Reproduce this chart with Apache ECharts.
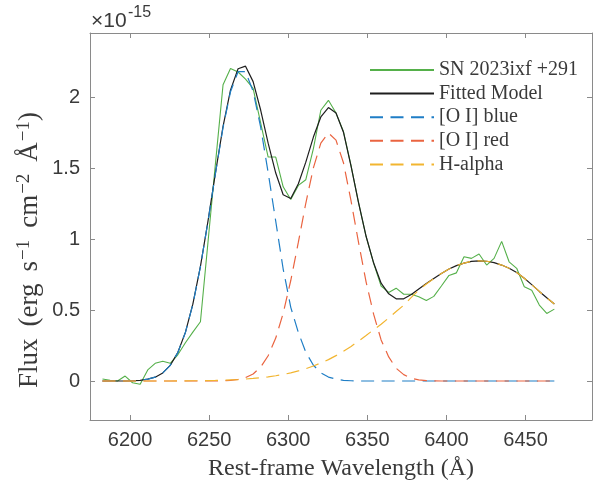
<!DOCTYPE html>
<html><head><meta charset="utf-8">
<script src="https://cdn.jsdelivr.net/npm/echarts@6/dist/echarts.min.js"></script>
<style>html,body{margin:0;padding:0;background:#fff}#c{width:603px;height:488px}</style>
</head><body><div id="c"></div>
<script>
// Rest-frame wavelength grid (Angstrom)
const wavelength = [6182.6, 6187.4, 6192.1, 6196.9, 6201.6, 6206.4, 6211.2, 6215.9, 6220.7, 6225.4,
  6230.2, 6235.0, 6239.7, 6244.5, 6249.2, 6254.0, 6258.8, 6263.5, 6268.3, 6273.0,
  6277.8, 6282.6, 6287.3, 6292.1, 6296.8, 6301.6, 6306.4, 6311.1, 6315.9, 6320.6,
  6325.4, 6330.2, 6334.9, 6339.7, 6344.4, 6349.2, 6354.0, 6358.7, 6363.5, 6368.2,
  6373.0, 6377.8, 6382.5, 6387.3, 6392.0, 6396.8, 6401.6, 6406.3, 6411.1, 6415.8,
  6420.6, 6425.4, 6430.1, 6434.9, 6439.6, 6444.4, 6449.2, 6453.9, 6458.7, 6463.4, 6468.2];
// Flux in units of 1e-15 erg s^-1 cm^-2 A^-1
const observed = [0.014, 0.005, 0.000, 0.035, -0.012, -0.023, 0.078, 0.125, 0.139, 0.125,
  0.185, 0.270, 0.345, 0.418, 0.970, 1.535, 2.090, 2.205, 2.180, 2.130,
  2.064, 1.820, 1.580, 1.580, 1.370, 1.280, 1.380, 1.420, 1.640, 1.910,
  1.980, 1.890, 1.760, 1.520, 1.260, 1.020, 0.830, 0.670, 0.625, 0.655,
  0.612, 0.612, 0.595, 0.568, 0.597, 0.670, 0.745, 0.763, 0.877, 0.865,
  0.896, 0.818, 0.865, 0.985, 0.841, 0.795, 0.665, 0.640, 0.536, 0.477, 0.507];
const model = [0, 0, 0, 0, 0.002, 0.005, 0.013, 0.027, 0.057, 0.110,
  0.201, 0.343, 0.542, 0.809, 1.123, 1.468, 1.797, 2.052, 2.203, 2.221,
  2.112, 1.910, 1.678, 1.467, 1.314, 1.287, 1.392, 1.544, 1.721, 1.863,
  1.929, 1.891, 1.755, 1.516, 1.261, 1.021, 0.832, 0.690, 0.615, 0.580,
  0.580, 0.610, 0.649, 0.688, 0.724, 0.759, 0.790, 0.814, 0.832, 0.844,
  0.848, 0.845, 0.835, 0.818, 0.795, 0.765, 0.725, 0.680, 0.632, 0.587, 0.543];
const oiBlue = [0, 0, 0, 0, 0.002, 0.005, 0.013, 0.027, 0.057, 0.110,
  0.200, 0.342, 0.540, 0.807, 1.120, 1.464, 1.789, 2.040, 2.182, 2.183,
  2.044, 1.789, 1.471, 1.127, 0.790, 0.520, 0.342, 0.203, 0.111, 0.058,
  0.028, 0.013, 0.005, 0.002, 0, 0, 0, 0, 0, 0,
  0, 0, 0, 0, 0, 0, 0, 0, 0, 0,
  0, 0, 0, 0, 0, 0, 0, 0, 0, 0, 0];
const oiRed = [0, 0, 0, 0, 0, 0, 0, 0, 0, 0,
  0, 0, 0, 0, 0, 0, 0.002, 0.004, 0.011, 0.024,
  0.050, 0.098, 0.178, 0.303, 0.478, 0.709, 0.979, 1.254, 1.504, 1.678,
  1.750, 1.699, 1.540, 1.270, 0.980, 0.700, 0.470, 0.290, 0.170, 0.090,
  0.045, 0.020, 0.008, 0.003, 0.001, 0, 0, 0, 0, 0,
  0, 0, 0, 0, 0, 0, 0, 0, 0, 0, 0];
const hAlpha = [0, 0, 0, 0, 0, 0, 0, 0, 0, 0,
  0.001, 0.001, 0.002, 0.002, 0.003, 0.004, 0.006, 0.008, 0.010, 0.014,
  0.018, 0.023, 0.029, 0.037, 0.046, 0.058, 0.071, 0.087, 0.106, 0.127,
  0.151, 0.179, 0.210, 0.244, 0.281, 0.321, 0.362, 0.400, 0.445, 0.490,
  0.535, 0.590, 0.641, 0.685, 0.723, 0.759, 0.790, 0.814, 0.832, 0.844,
  0.848, 0.845, 0.835, 0.818, 0.795, 0.765, 0.725, 0.680, 0.632, 0.587, 0.543];
const xTicks = [6200, 6250, 6300, 6350, 6400, 6450];
const yTicks = [0, 0.5, 1, 1.5, 2];
const seriesNames = ['SN 2023ixf +291', 'Fitted Model', '[O I] blue', '[O I] red', 'H-alpha'];

const chart = echarts.init(document.getElementById('c'), null, {renderer: 'canvas'});
const pair = arr => wavelength.map((x, i) => [x, arr[i]]);
const axisColor = '#8a8a8a';
const textColor = '#3a3a3a';
const tickLabel = {fontFamily: 'Liberation Sans', fontSize: 20, color: textColor, formatter: v => String(v)};
const dash = [13, 7.5];

function xAx(pos, labels) {
  return {
    type: 'value', position: pos, min: 6174.7, max: 6492.0,
    axisLine: {show: true, onZero: false, lineStyle: {color: axisColor, width: 1}},
    axisTick: {show: true, inside: true, length: 5, customValues: xTicks, lineStyle: {color: axisColor}},
    axisLabel: Object.assign({show: labels, margin: 10, customValues: xTicks}, tickLabel),
    splitLine: {show: false}
  };
}
function yAx(pos, labels) {
  return {
    type: 'value', position: pos, min: -0.275, max: 2.455,
    axisLine: {show: true, onZero: false, lineStyle: {color: axisColor, width: 1}},
    axisTick: {show: true, inside: true, length: 5, customValues: yTicks, lineStyle: {color: axisColor}},
    axisLabel: Object.assign({show: labels, margin: 10, customValues: yTicks}, tickLabel),
    splitLine: {show: false}
  };
}
function line(name, arr, color, width, type) {
  return {
    name, type: 'line', data: pair(arr), symbol: 'none', showSymbol: false,
    xAxisIndex: 0, yAxisIndex: 0,
    lineStyle: {color, width, type}, itemStyle: {color},
    emphasis: {disabled: true}, animation: false
  };
}

chart.setOption({
  animation: false,
  grid: {left: 90, right: 11, top: 33, bottom: 68},
  xAxis: [xAx('bottom', true), xAx('top', false)],
  yAxis: [yAx('left', true), yAx('right', false)],
  legend: {
    orient: 'vertical', left: 369, top: 60, padding: 0, itemWidth: 64, itemHeight: 12, itemGap: 3.6,
    selectedMode: false, data: seriesNames,
    itemStyle: {opacity: 0},
    textStyle: {fontFamily: 'Liberation Serif', fontSize: 20, lineHeight: 20, color: textColor}
  },
  series: [
    line(seriesNames[0], observed, '#55b04a', 1.1, 'solid'),
    line(seriesNames[1], model, '#1e1e1e', 1.2, 'solid'),
    line(seriesNames[2], oiBlue, '#1f7ec6', 1.2, dash),
    line(seriesNames[3], oiRed, '#ea6440', 1.2, dash),
    line(seriesNames[4], hAlpha, '#f2b530', 1.2, dash)
  ],
  graphic: [
    {type: 'text', x: 91, y: 21, style: {text: '×10', fontFamily: 'Liberation Sans', fontSize: 21, fill: textColor, verticalAlign: 'middle'}},
    {type: 'text', x: 128, y: 12.5, style: {text: '-15', fontFamily: 'Liberation Sans', fontSize: 16, fill: textColor, verticalAlign: 'middle'}},
    {type: 'text', x: 341, y: 469, style: {text: 'Rest-frame Wavelength (Å)', fontFamily: 'Liberation Serif', fontSize: 24, fill: textColor, align: 'center', verticalAlign: 'middle'}},
    {type: 'text', x: 30, y: 250, rotation: Math.PI / 2, style: {
      text: '{a|Flux}{g|(erg}{g|s}{b|−1}{g|cm}{b|−2}{g|Å}{b|−1}{a|)}',
      align: 'center', verticalAlign: 'middle', fill: textColor,
      rich: {
        a: {fontFamily: 'Liberation Serif', fontSize: 27, lineHeight: 30, verticalAlign: 'middle', fill: textColor},
        g: {fontFamily: 'Liberation Serif', fontSize: 27, lineHeight: 30, verticalAlign: 'middle', fill: textColor, padding: [0, 0, 0, 12]},
        b: {fontFamily: 'Liberation Serif', fontSize: 19, lineHeight: 19, verticalAlign: 'top', fill: textColor, padding: [0, 0, 0, 1]}
      }
    }}
  ]
});
</script></body></html>
